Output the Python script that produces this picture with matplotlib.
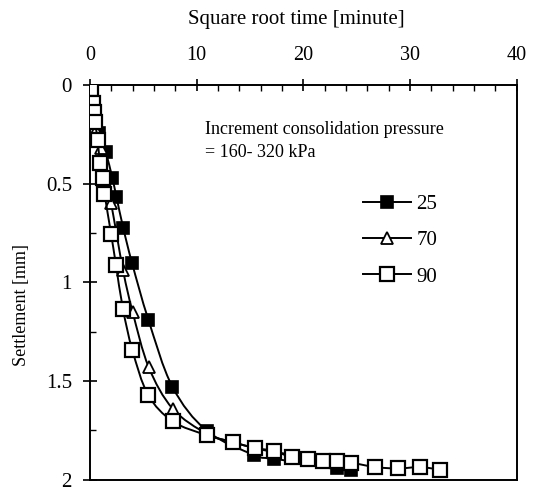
import numpy as np
import matplotlib
matplotlib.use('Agg')
import matplotlib.pyplot as plt
from matplotlib.path import Path
from matplotlib.patches import PathPatch
from matplotlib.lines import Line2D
from matplotlib.ticker import MultipleLocator

plt.rcParams['font.family'] = ['Liberation Serif', 'DejaVu Serif']

# square root of time [min^0.5] and settlement [mm] for each test
t25 = [0.1, 0.33, 0.86, 1.48, 2.09, 2.48, 3.11, 3.95, 5.47, 7.72, 10.93, 15.41, 17.26, 23.18, 24.46]
s25 = [0.01, 0.085, 0.245, 0.34, 0.47, 0.567, 0.723, 0.904, 1.189, 1.529, 1.752, 1.876, 1.895, 1.941, 1.95]

t70 = [0.1, 0.35, 0.61, 1.01, 1.29, 1.98, 3.1, 4.0, 5.5, 7.75, 10.95, 13.36, 15.43, 17.26, 23.18, 24.43]
s70 = [0.01, 0.1, 0.228, 0.321, 0.43, 0.60, 0.939, 1.151, 1.43, 1.641, 1.768, 1.81, 1.84, 1.86, 1.91, 1.915]

t90 = [0.1, 0.26, 0.36, 0.45, 0.73, 0.92, 1.20, 1.36, 1.98, 2.43, 3.09, 3.98, 5.44, 7.75, 10.94,
       13.36, 15.43, 17.26, 18.91, 20.42, 21.87, 23.18, 24.43, 26.75, 28.89, 30.94, 32.79]
s90 = [0.02, 0.09, 0.135, 0.185, 0.28, 0.395, 0.47, 0.55, 0.755, 0.91, 1.135, 1.345, 1.57, 1.705, 1.775,
       1.81, 1.84, 1.855, 1.888, 1.897, 1.904, 1.907, 1.914, 1.937, 1.944, 1.937, 1.950]

labels = ['25', '70', '90']
xticks = [0, 10, 20, 30, 40]
yticks = [0, 0.5, 1, 1.5, 2]
ytick_labels = ['0', '0.5', '1', '1.5', '2']


def smooth_path(x, y):
    # Catmull-Rom segments as cubic Bezier curves (smoothed line)
    p = np.column_stack([x, y]).astype(float)
    n = len(p)
    verts = [p[0]]
    codes = [Path.MOVETO]
    for i in range(n - 1):
        p0 = p[i - 1] if i > 0 else p[i]
        p1 = p[i]
        p2 = p[i + 1]
        p3 = p[i + 2] if i + 2 < n else p[i + 1]
        verts += [p1 + (p2 - p0) / 6, p2 - (p3 - p1) / 6, p2]
        codes += [Path.CURVE4] * 3
    return Path(verts, codes)


fig = plt.figure(figsize=(5.35, 4.9), dpi=100)
ax = fig.add_axes([0.1682, 0.0214, 0.7976, 0.805])

styles = [
    dict(marker='s', mfc='black', mec='black', ms=8.5, mew=1.2),
    dict(marker='^', mfc='white', mec='black', ms=8.0, mew=1.3),
    dict(marker='s', mfc='white', mec='black', ms=9.8, mew=1.6),
]
series = [(t25, s25), (t70, s70), (t90, s90)]

handles = []
for k, ((t, s), st, lab) in enumerate(zip(series, styles, labels)):
    ax.add_patch(PathPatch(smooth_path(t, s), fill=False, lw=1.4, ec='black', zorder=2 + 2 * k))
    ax.plot(t, s, ls='none', zorder=3 + 2 * k, **st)
    handles.append(Line2D([], [], color='black', lw=1.4, label=lab, **st))

ax.set_xlim(0, 40)
ax.set_ylim(2, 0)

ax.xaxis.tick_top()
ax.xaxis.set_label_position('top')
ax.set_xticks(xticks)
ax.xaxis.set_minor_locator(MultipleLocator(2))
ax.set_yticks(yticks)
ax.set_yticklabels(ytick_labels)
ax.yaxis.set_minor_locator(MultipleLocator(0.25))

ax.tick_params(axis='x', which='major', direction='inout', length=9, width=1.2, pad=10, labelsize=14.5)
ax.tick_params(axis='x', which='minor', direction='in', length=4.5, width=1.0)
ax.tick_params(axis='y', which='major', direction='inout', length=10, width=1.2, pad=8, labelsize=15)
ax.tick_params(axis='y', which='minor', direction='in', length=4.5, width=1.0)

for sp in ax.spines.values():
    sp.set_linewidth(1.4)

ax.set_xlabel('Square root time [minute]', fontsize=15)
ax.xaxis.label.set_va('center')
ax.xaxis.set_label_coords(0.483, 1.165)
ax.set_ylabel('Settlement [mm]', fontsize=13)
ax.yaxis.set_label_coords(-0.14, 0.442)

ax.text(0.2695, 0.888, 'Increment consolidation pressure', transform=ax.transAxes,
        fontsize=13, ha='left', va='center')
ax.text(0.2695, 0.828, '= 160- 320 kPa', transform=ax.transAxes,
        fontsize=13, ha='left', va='center')

ax.legend(handles=handles, loc='center left', bbox_to_anchor=(0.64, 0.606),
          frameon=False, fontsize=15, handlelength=2.3, handletextpad=0.25,
          labelspacing=0.8, borderpad=0, borderaxespad=0)

fig.savefig('out.png', dpi=100)
